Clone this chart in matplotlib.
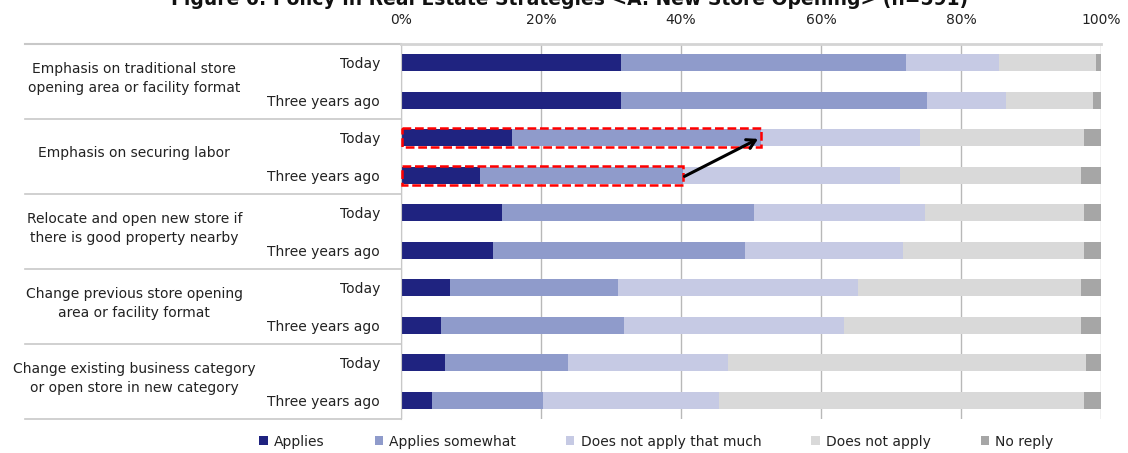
import matplotlib.pyplot as plt
from matplotlib.patches import Rectangle, Patch
import numpy as np

plt.rcParams['font.family'] = ['DejaVu Sans']

# Survey results (% of respondents), two rows per policy: Today / Three years ago
groups = ['Emphasis on traditional store\nopening area or facility format',
          'Emphasis on securing labor',
          'Relocate and open new store if\nthere is good property nearby',
          'Change previous store opening\narea or facility format',
          'Change existing business category\nor open store in new category']
periods = ['Today', 'Three years ago']

series = ['Applies', 'Applies somewhat', 'Does not apply that much',
          'Does not apply', 'No reply']
colors = ['#1f2380', '#8f9bcb', '#c6cae4', '#d9d9d9', '#a6a6a6']

applies          = [31.4, 31.4, 15.8, 11.3, 14.4, 13.1, 7.0, 5.7, 6.3, 4.4]
applies_somewhat = [40.8, 43.8, 35.6, 29.0, 36.0, 36.1, 24.0, 26.1, 17.6, 15.9]
not_much         = [13.2, 11.3, 22.7, 31.0, 24.4, 22.5, 34.3, 31.5, 22.8, 25.1]
not_apply        = [13.9, 12.3, 23.5, 25.8, 22.8, 25.9, 31.9, 33.9, 51.1, 52.2]
no_reply         = [0.7, 1.2, 2.4, 2.9, 2.4, 2.4, 2.8, 2.8, 2.2, 2.4]

values = np.array([applies, applies_somewhat, not_much, not_apply, no_reply])
n_rows = values.shape[1]
ypos = np.arange(n_rows)

fig = plt.figure(figsize=(11.28, 4.53), dpi=100)
ax = fig.add_axes([401 / 1128, 34 / 453, 700 / 1128, 375 / 453])

left = np.zeros(n_rows)
for vals, name, col in zip(values, series, colors):
    ax.barh(ypos, vals, left=left, height=0.45, color=col, label=name, zorder=2)
    left += vals

ax.set_xlim(0, 100)
ax.set_ylim(n_rows - 0.5, -0.5)

ax.xaxis.tick_top()
ax.set_xticks(np.arange(0, 101, 20))
ax.set_xticklabels([f'{v}%' for v in range(0, 101, 20)])
ax.tick_params(axis='x', length=0, pad=12, labelsize=10, colors='#222222')
ax.set_yticks(ypos)
ax.set_yticklabels(periods * len(groups))
ax.tick_params(axis='y', length=0, pad=15, labelsize=10, colors='#222222')
ax.grid(axis='x', color='#b8b8b8', linewidth=1, zorder=0)

for side in ['right', 'bottom']:
    ax.spines[side].set_visible(False)
ax.spines['left'].set_color('#c8c8c8')
ax.spines['top'].set_color('#d4d4d4')
ax.spines['top'].set_linewidth(2)

# group separators and category names in the left margin
trans = ax.get_yaxis_transform()
for i in range(len(groups) + 1):
    yb = 2 * i - 0.5
    ax.plot([-0.537, 0], [yb, yb], transform=trans, color='#c8c8c8',
            linewidth=1.5 if i == 0 else 1.2, clip_on=False)
for i, g in enumerate(groups):
    ax.text(-0.381, 2 * i + 0.42, g, transform=trans, ha='center', va='center',
            fontsize=10, color='#222222', linespacing=1.45)

# highlight "Applies" + "Applies somewhat" for securing labor
box_h = 0.5
for r in (2, 3):
    w = applies[r] + applies_somewhat[r]
    ax.add_patch(Rectangle((0.2, r - box_h / 2), w - 0.2, box_h, fill=False,
                           edgecolor='#ff0000', linewidth=1.8,
                           linestyle=(0, (3.5, 1.5)), zorder=4, clip_on=False))
start_x = applies[3] + applies_somewhat[3]
end_x = applies[2] + applies_somewhat[2]
ax.annotate('', xy=(end_x - 0.4, 2.03), xytext=(start_x + 0.2, 3.03),
            arrowprops=dict(arrowstyle='->,head_length=0.6,head_width=0.35',
                            color='black', linewidth=2.2, shrinkA=0, shrinkB=0),
            zorder=5)

fig.text(0.505, 1 - 5 / 453, 'Figure 6: Policy in Real Estate Strategies '
         '<A. New Store Opening> (n=591)', ha='center', va='baseline',
         fontsize=13.5, fontweight='bold', color='#111111')

handles = [Patch(facecolor=c, edgecolor='none') for c in colors]
fig.legend(handles, series, loc='center', bbox_to_anchor=(0.582, 0.025),
           ncol=5, frameon=False, fontsize=10, handlelength=0.6,
           handleheight=0.6, handletextpad=0.45, columnspacing=3.6,
           labelcolor='#222222')

fig.savefig('out.png', dpi=100)
